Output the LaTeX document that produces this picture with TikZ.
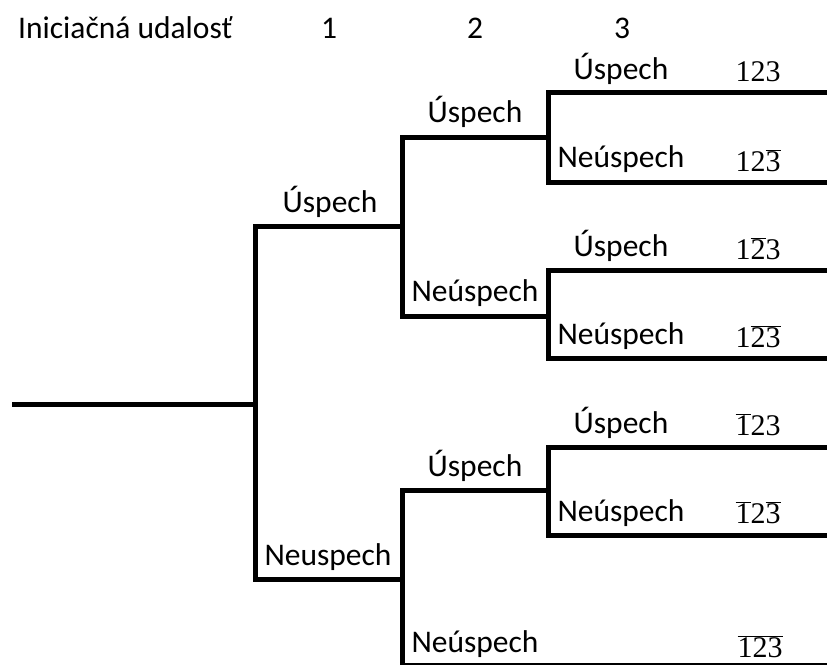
\documentclass[tikz,border=0pt]{standalone}
\usepackage{fontspec}
\setmainfont{Carlito}
\newfontfamily\numfont{Liberation Serif}
\usepackage{tikz}
\usetikzlibrary{positioning,calc}

\newcommand{\ovl}[1]{$\overline{\mbox{#1}}$}

\begin{document}
\begin{tikzpicture}[x=1pt,y=-1pt,
	branch/.style={line width=5pt},
	lab/.style={anchor=base,inner sep=0pt,
		font=\fontsize{31.5}{38}\selectfont},
	outc/.style={anchor=base,inner sep=0pt,
		font=\numfont\fontsize{30}{36}\selectfont}]
	\useasboundingbox (0,0) rectangle (827,664);

	% header
	\node[lab,anchor=base west] (H0) at (18,38) {Iniciačná udalosť};
	\node[lab] (H1) at (329,38) {1};
	\node[lab] (H2) at (475,38) {2};
	\node[lab] (H3) at (622,38) {3};

	% junctions
	\coordinate (S)   at (12,404);
	\coordinate (J1)  at (255,404);
	\coordinate (J2a) at (402,226);
	\coordinate (J2b) at (402,579);
	\coordinate (J3a) at (548,137);
	\coordinate (J3b) at (548,316);
	\coordinate (J3c) at (548,490);
	% ends
	\coordinate (E1) at (830,92);
	\coordinate (E2) at (830,182);
	\coordinate (E3) at (830,270);
	\coordinate (E4) at (830,358);
	\coordinate (E5) at (830,447);
	\coordinate (E6) at (830,535);
	\coordinate (E7) at (830,665);

	\draw[branch] (S) -- (J1);
	\draw[branch] (J2a) -| (J1) |- (J2b);
	\draw[branch] (J3a) -| (J2a) |- (J3b);
	\draw[branch] (J3c) -| (J2b) |- (E7);
	\draw[branch] (E1) -| (J3a) |- (E2);
	\draw[branch] (E3) -| (J3b) |- (E4);
	\draw[branch] (E5) -| (J3c) |- (E6);

	% branch labels
	\node[lab] (U1) at (330,212) {Úspech};
	\node[lab] (N1) at (328,565) {Neuspech};
	\node[lab] (U2a) at (475,122) {Úspech};
	\node[lab] (N2a) at (475,301) {Neúspech};
	\node[lab] (U2b) at (475,476) {Úspech};
	\node[lab] (N2b) at (475,652) {Neúspech};
	\node[lab] (U3a) at (621,79) {Úspech};
	\node[lab] (N3a) at (621,167) {Neúspech};
	\node[lab] (U3b) at (621,256) {Úspech};
	\node[lab] (N3b) at (621,344) {Neúspech};
	\node[lab] (U3c) at (621,433) {Úspech};
	\node[lab] (N3c) at (621,521) {Neúspech};

	% outcomes
	\node[outc] (O1) at (758,81) {123};
	\node[outc] (O2) at (758,171) {12\ovl{3}};
	\node[outc] (O3) at (758,259) {1\ovl{2}3};
	\node[outc] (O4) at (758,347) {1\ovl{23}};
	\node[outc] (O5) at (758,435) {\ovl{1}23};
	\node[outc] (O6) at (758,523) {\ovl{1}2\ovl{3}};
	\node[outc] (O7) at (760,657) {\ovl{123}};
\end{tikzpicture}
\end{document}
